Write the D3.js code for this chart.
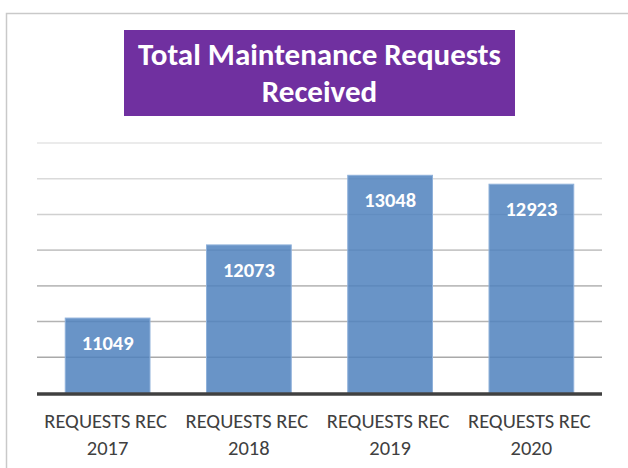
<!DOCTYPE html>
<html>
<head>
<meta charset="utf-8">
<script src="https://cdn.jsdelivr.net/npm/d3@7"></script>
<style>
  html, body { margin: 0; padding: 0; background: #fff; }
  svg { display: block; }
</style>
</head>
<body>
<svg id="chart" width="628" height="468"></svg>
<script>
const categories = ["REQUESTS REC 2017", "REQUESTS REC 2018", "REQUESTS REC 2019", "REQUESTS REC 2020"];
const categoryLines = [["REQUESTS REC", "2017"], ["REQUESTS REC", "2018"], ["REQUESTS REC", "2019"], ["REQUESTS REC", "2020"]];
const values = [11049, 12073, 13048, 12923];
const gridTicks = [10500, 11000, 11500, 12000, 12500, 13000, 13500];
const titleLines = ["Total Maintenance Requests", "Received"];

const FONT = "Carlito, Calibri, Lato, 'Open Sans', sans-serif";
const svg = d3.select("#chart");

// outer frame
svg.append("rect")
  .attr("x", 6.5).attr("y", 13.5).attr("width", 700).attr("height", 600)
  .attr("fill", "#fff").attr("stroke", "#c9c9c9").attr("stroke-width", 1.5);

const x = d3.scaleBand().domain(categories).range([37, 602]).paddingInner(0.4).paddingOuter(0.2);
const y = d3.scaleLinear().domain([10000, 13500]).range([393, 143]);

// gridlines (lighter at top, darker at bottom)
const gridColor = d3.scaleLinear().domain([13500, 10500]).range(["#e4e4e4", "#a9a9a9"]);
svg.append("g").selectAll("line").data(gridTicks).join("line")
  .attr("x1", 37).attr("x2", 602)
  .attr("y1", d => y(d)).attr("y2", d => y(d))
  .attr("stroke", d => gridColor(d)).attr("stroke-width", 1.6);

// bars
svg.append("g").selectAll("rect").data(values).join("rect")
  .attr("x", (d, i) => x(categories[i]))
  .attr("y", d => y(d))
  .attr("width", x.bandwidth())
  .attr("height", d => y(10000) - y(d))
  .attr("fill", "#4F81BD").attr("fill-opacity", 0.85)
  .attr("stroke", "#8fb1da").attr("stroke-width", 1);

// value labels
svg.append("g").selectAll("text").data(values).join("text")
  .attr("x", (d, i) => x(categories[i]) + x.bandwidth() / 2)
  .attr("y", d => y(d) + 32)
  .attr("text-anchor", "middle")
  .attr("font-family", FONT).attr("font-weight", "bold").attr("font-size", 20.5)
  .attr("fill", "#fff")
  .text(d => d);

// baseline axis
svg.append("line")
  .attr("x1", 37).attr("x2", 602).attr("y1", y(10000) + 1).attr("y2", y(10000) + 1)
  .attr("stroke", "#404040").attr("stroke-width", 3.5);

// category labels
const lab = svg.append("g").selectAll("text").data(categoryLines).join("text")
  .attr("text-anchor", "middle")
  .attr("font-family", FONT).attr("font-size", 20.5)
  .attr("fill", "#404040");
lab.each(function(lines, i) {
  const t = d3.select(this);
  const cx = x(categories[i]) + x.bandwidth() / 2;
  lines.forEach((l, j) => {
    t.append("tspan").attr("x", cx - (j === 0 ? 2 : 0)).attr("y", 428 + j * 27).text(l);
  });
});

// title box
svg.append("rect")
  .attr("x", 124).attr("y", 30).attr("width", 391).attr("height", 86)
  .attr("fill", "#7030A0");
svg.append("g").selectAll("text").data(titleLines).join("text")
  .attr("x", 319.5).attr("y", (d, i) => 65 + i * 37)
  .attr("text-anchor", "middle")
  .attr("font-family", FONT).attr("font-weight", "bold").attr("font-size", 31)
  .attr("fill", "#fff")
  .text(d => d);
</script>
</body>
</html>
